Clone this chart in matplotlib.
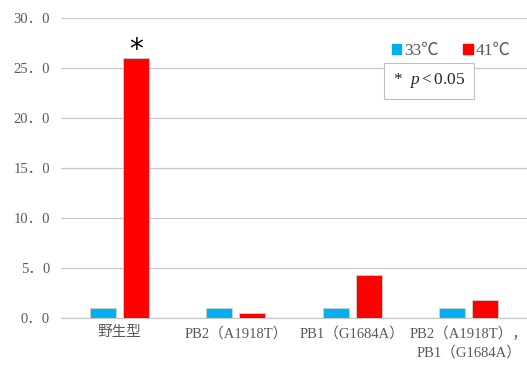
import numpy as np
import matplotlib
matplotlib.use("Agg")
import matplotlib.pyplot as plt
from matplotlib.patches import Patch

plt.rcParams["font.family"] = ["Liberation Serif", "Noto Sans CJK JP", "DejaVu Sans"]
plt.rcParams["mathtext.fontset"] = "custom"
plt.rcParams["mathtext.it"] = "Liberation Serif:italic"
plt.rcParams["mathtext.rm"] = "Liberation Serif"

categories = ["野生型", "PB2（A1918T）", "PB1（G1684A）", "PB2（A1918T），\nPB1（G1684A）"]
temp_33 = [1.0, 1.0, 1.0, 1.0]
temp_41 = [26.0, 0.5, 4.3, 1.8]
series_labels = ["33℃", "41℃"]
yticks = [0, 5, 10, 15, 20, 25, 30]

BLUE = "#00b0f0"
RED = "#ff0000"
GRAY = "#595959"

fig = plt.figure(figsize=(5.27, 3.65), dpi=100)
ax = fig.add_axes([61 / 527, 1 - 318 / 365, 1 - 61 / 527, 300 / 365])

x = np.arange(len(categories))
w = 0.225
off = 0.142
ax.bar(x - off, temp_33, w, color=BLUE, edgecolor="#d0d0d0", linewidth=0.6, zorder=3)
ax.bar(x + off, temp_41, w, color=RED, edgecolor="#d0d0d0", linewidth=0.6, zorder=3)

ax.set_xlim(-0.5, len(categories) - 0.5)
ax.set_ylim(0, 30)
ax.set_yticks(yticks)
ax.set_yticklabels([f"{v}．0" for v in yticks], color=GRAY, fontsize=10.5)
ax.set_xticks(x)
ax.set_xticklabels(categories, color=GRAY, fontsize=10.5, linespacing=1.5)
ax.tick_params(axis="y", length=0, pad=8)
ax.tick_params(axis="x", length=0, pad=6)

ax.grid(axis="y", color="#c8c8c8", linewidth=0.9, zorder=0)
for side in ["top", "right", "left"]:
    ax.spines[side].set_visible(False)
ax.spines["bottom"].set_color("#c8c8c8")
ax.spines["bottom"].set_linewidth(0.9)

# significance mark over the wild-type 41C bar
ax.text(x[0] + off, temp_41[0] + 0.8, "*", ha="center", va="center",
        fontsize=20, color="black", family="DejaVu Sans")

handles = [Patch(color=BLUE), Patch(color=RED)]
leg = ax.legend(handles, series_labels, ncol=2, frameon=False,
                loc="center", bbox_to_anchor=(451 / 527, 1 - 51 / 365),
                bbox_transform=fig.transFigure, fontsize=12.5,
                handlelength=0.55, handleheight=0.55, handletextpad=0.15,
                columnspacing=1.4, labelcolor=GRAY)

fig.text(429 / 527, 1 - 81 / 365, r"$*\ \ p{<}0.05$", ha="center", va="center",
         fontsize=12.5, color="#262626",
         bbox=dict(boxstyle="square,pad=0.5", fc="white", ec="#bfbfbf", lw=0.8))

fig.savefig("out.png", dpi=100, facecolor="white")
